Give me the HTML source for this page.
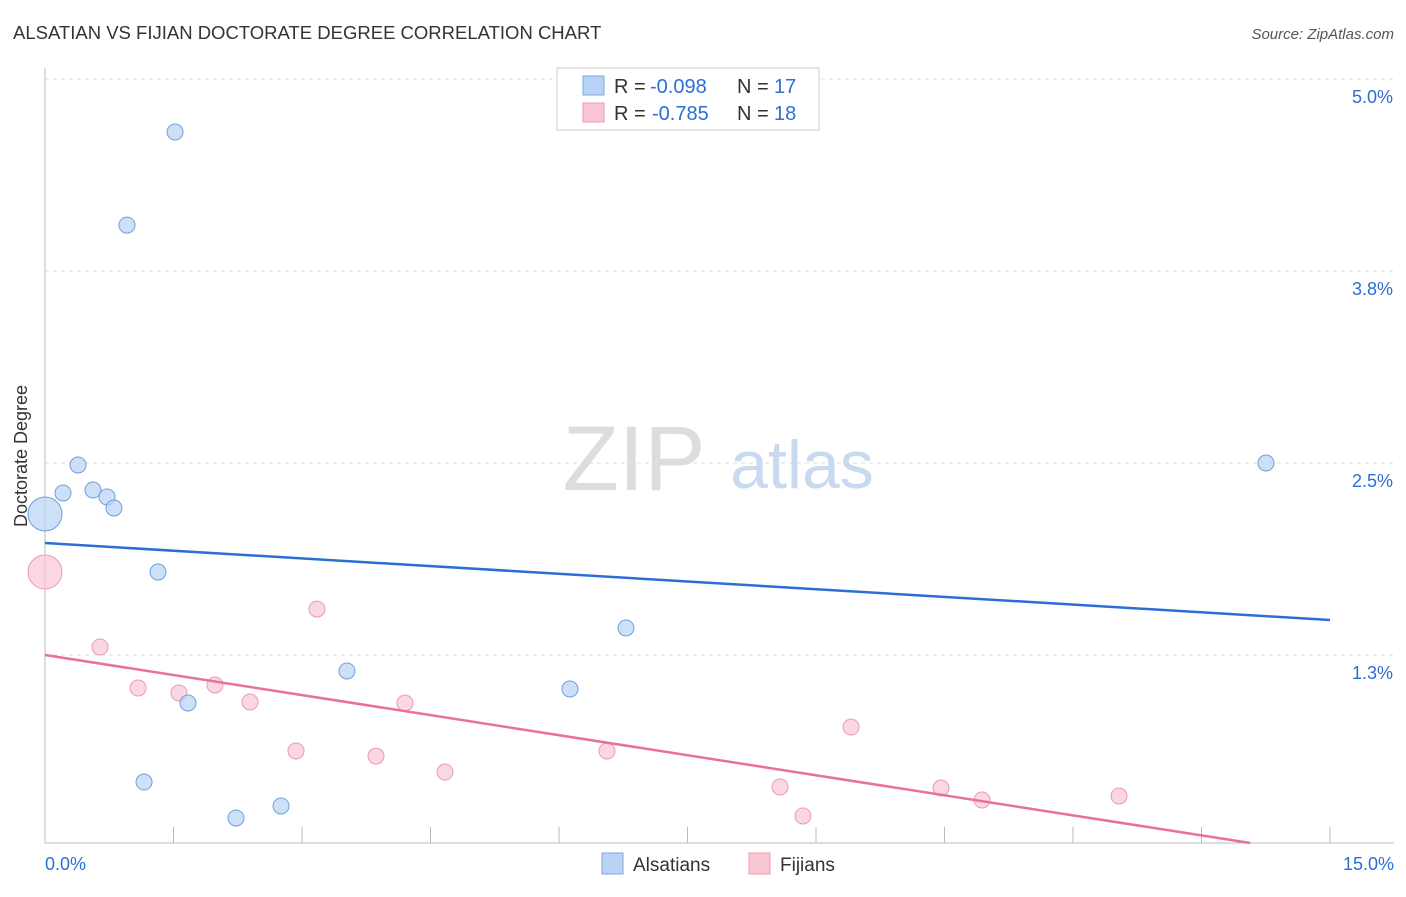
<!DOCTYPE html>
<html><head><meta charset="utf-8"><style>
body{margin:0;background:#fff;font-family:"Liberation Sans",sans-serif;}
svg text{font-family:"Liberation Sans",sans-serif;}
</style></head><body>
<svg id="chart" width="1406" height="892">
<text x="13" y="39" font-size="18.5" fill="#333">ALSATIAN VS FIJIAN DOCTORATE DEGREE CORRELATION CHART</text>
<text x="1394" y="39" font-size="15" fill="#555" text-anchor="end" font-style="italic">Source: ZipAtlas.com</text>
<g id="grid"></g>
<text x="634" y="490" font-size="92" fill="#ddd" font-family="Liberation Serif" text-anchor="middle">ZIP</text>
<text x="802" y="488" font-size="68" fill="#c9daf0" text-anchor="middle">atlas</text>
<text x="27" y="456" font-size="18" fill="#333" text-anchor="middle" transform="rotate(-90 27 456)">Doctorate Degree</text>
<g id="marks"></g>
<g>
<rect x="557" y="68" width="262" height="62" fill="#fff" stroke="#ccc"/>
<rect x="583" y="76" width="21" height="19" fill="#b8d3f5" stroke="#7aa8e0"/>
<rect x="583" y="103" width="21" height="19" fill="#f9c6d4" stroke="#eb9ab2"/>
<text x="614" y="93" font-size="20" fill="#333">R =</text>
<text x="650" y="93" font-size="20" fill="#2b6fd6">-0.098</text>
<text x="737" y="93" font-size="20" fill="#333">N =</text>
<text x="774" y="93" font-size="20" fill="#2b6fd6">17</text>
<text x="614" y="120" font-size="20" fill="#333">R =</text>
<text x="652" y="120" font-size="20" fill="#2b6fd6">-0.785</text>
<text x="737" y="120" font-size="20" fill="#333">N =</text>
<text x="774" y="120" font-size="20" fill="#2b6fd6">18</text>
</g>
<g>
<rect x="602" y="853" width="21" height="21" fill="#b8d3f5" stroke="#7aa8e0"/>
<text x="633" y="871" font-size="19" fill="#333">Alsatians</text>
<rect x="749" y="853" width="21" height="21" fill="#f9c6d4" stroke="#eb9ab2"/>
<text x="780" y="871" font-size="19" fill="#333">Fijians</text>
</g>
</svg>
<script>
const yTicks=[1.25,2.5,3.75,5.0];
const yTickLabels=["1.3%","2.5%","3.8%","5.0%"];
const xTickCount=10;
const alsX=[0,0.21,0.385,0.56,0.724,0.805,0.957,1.319,1.518,1.156,1.669,2.23,2.755,3.525,6.128,6.782,14.253];
const alsY=[2.168,2.305,2.487,2.324,2.279,2.207,4.049,1.79,4.655,0.423,0.9375,0.189,0.267,1.146,1.029,1.426,2.5];
const fijX=[0,0.642,1.086,1.564,1.984,2.393,3.175,2.93,3.864,4.202,4.669,6.56,8.58,8.848,9.409,10.459,10.938,12.537];
const fijY=[1.79,1.302,1.035,1.003,1.055,0.944,1.549,0.625,0.592,0.9375,0.488,0.625,0.391,0.202,0.781,0.384,0.306,0.332];
const alsTrend=[1.979,1.478];
const fijTrend=[1.25,-0.055];
const NS="http://www.w3.org/2000/svg";
const X=v=>45+v/15*1285, Y=v=>847-v/5*768;
function mk(t,a,p){const e=document.createElementNS(NS,t);for(const k in a)e.setAttribute(k,a[k]);p.appendChild(e);return e;}
const g=document.getElementById('grid'),m=document.getElementById('marks');
yTicks.forEach((v,i)=>{
 const l=mk('line',{x1:45,x2:1394,y1:Y(v),y2:Y(v),stroke:'#ddd','stroke-dasharray':'4,4'},g);
 
 
 const t=mk('text',{x:1393,y:Y(v)+24,'font-size':18,fill:'#2b6fd6','text-anchor':'end'},g);
 t.textContent=yTickLabels[i];
 
 
});
const ax=mk('line',{x1:45,x2:45,y1:68,y2:843,stroke:'#bbb'},g);


const bx=mk('line',{x1:45,x2:1394,y1:843,y2:843,stroke:'#bbb'},g);


for(let i=1;i<=xTickCount;i++){const tk=mk('line',{x1:X(i*1.5),x2:X(i*1.5),y1:827,y2:843,stroke:'#bbb'},g);
 
 }
[["0.0%",45,'start'],["15.0%",1394,'end']].forEach(a=>{const t=mk('text',{x:a[1],y:870,'font-size':18,fill:'#2b6fd6','text-anchor':a[2]},g);t.textContent=a[0];
 
 });
function pts(xs,ys,fill,stroke,name){xs.forEach((x,i)=>{const c=mk('circle',{cx:X(x),cy:Y(ys[i]),r:i==0?17:8,fill:fill,stroke:stroke,'stroke-width':1,'fill-opacity':0.7},m);
 
 });}
pts(fijX,fijY,'#f9c6d4','#eb9ab2','fijian-point');
pts(alsX,alsY,'#b8d3f5','#6f9fdc','alsatian-point');
const bl=mk('line',{x1:X(0),y1:Y(alsTrend[0]),x2:X(15),y2:Y(alsTrend[1]),stroke:'#2b6fd6','stroke-width':2.5},m);


const yFloor=(847-843)/768*5;
const slope=(fijTrend[1]-fijTrend[0])/15;
const xe=Math.min(15,(yFloor-fijTrend[0])/slope);
const pl=mk('line',{x1:X(0),y1:Y(fijTrend[0]),x2:X(xe),y2:Y(fijTrend[0]+slope*xe),stroke:'#e8709a','stroke-width':2.5},m);


</script>
</body></html>
